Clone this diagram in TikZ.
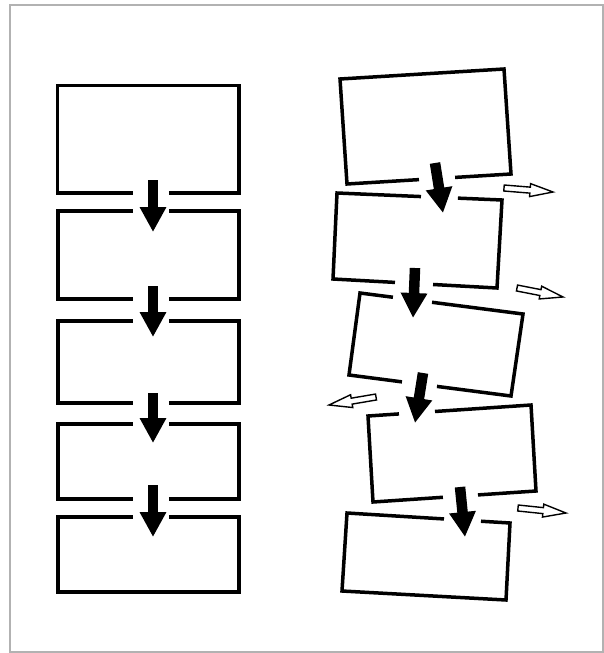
\documentclass[tikz,border=0pt]{standalone}
\usetikzlibrary{calc,arrows.meta}
\tikzset{
  boxline/.style={draw=black, line width=3.5pt, line join=miter},
  fatarrow/.style={draw=black, line width=10.5pt, -{Triangle[width=25pt,length=25pt]}},
  hollow/.style={draw=black, fill=white, line width=1.4pt, line join=miter},
  frameline/.style={draw=black!30, line width=1.2pt}
}
\newcommand\corners[5]{%
  \coordinate (#1tl) at #2; \coordinate (#1tr) at #3;
  \coordinate (#1br) at #4; \coordinate (#1bl) at #5;}
% box with gaps at top (#2..#3) and bottom (#4..#5)
\newcommand\boxboth[5]{%
  \draw[boxline] ($(#1tl)!#2!(#1tr)$) -- (#1tl) -- (#1bl) -- ($(#1bl)!#4!(#1br)$);
  \draw[boxline] ($(#1bl)!#5!(#1br)$) -- (#1br) -- (#1tr) -- ($(#1tl)!#3!(#1tr)$);}
% box with gap at bottom only
\newcommand\boxfirst[3]{%
  \draw[boxline] ($(#1bl)!#3!(#1br)$) -- (#1br) -- (#1tr) -- (#1tl) -- (#1bl) -- ($(#1bl)!#2!(#1br)$);}
% box with gap at top only
\newcommand\boxlast[3]{%
  \draw[boxline] ($(#1tl)!#3!(#1tr)$) -- (#1tr) -- (#1br) -- (#1bl) -- (#1tl) -- ($(#1tl)!#2!(#1tr)$);}
% hollow arrow: name, tail, tip
\newcommand\hollowarrow[3]{%
  \coordinate (#1t) at #2; \coordinate (#1p) at #3;
  \coordinate (#1b) at ($(#1p)!23pt!(#1t)$);
  \draw[hollow] ($(#1t)!3pt!90:(#1p)$) -- ($(#1b)!3pt!90:(#1p)$) -- ($(#1b)!6.5pt!90:(#1p)$)
    -- (#1p) -- ($(#1b)!6.5pt!-90:(#1p)$) -- ($(#1b)!3pt!-90:(#1p)$) -- ($(#1t)!3pt!-90:(#1p)$) -- cycle;}
\begin{document}
\begin{tikzpicture}[x=1pt,y=-1pt]
\useasboundingbox (0,0) rectangle (604,653);
\fill[white] (0,0) rectangle (604,653);
\draw[frameline] (10,5) rectangle (603,652);

% ---- left column ----
\corners{L1}{(57.5,85.5)}{(239,85.5)}{(239,193)}{(57.5,193)}
\corners{L2}{(58,211)}{(239,211)}{(239,299)}{(58,299)}
\corners{L3}{(58,321)}{(239,321)}{(239,403)}{(58,403)}
\corners{L4}{(58,424)}{(239,424)}{(239,499)}{(58,499)}
\corners{L5}{(58,517)}{(239,517)}{(239,592)}{(58,592)}
\boxfirst{L1}{0.414}{0.613}
\boxboth{L2}{0.414}{0.613}{0.414}{0.613}
\boxboth{L3}{0.414}{0.613}{0.414}{0.613}
\boxboth{L4}{0.414}{0.613}{0.414}{0.613}
\boxlast{L5}{0.414}{0.613}

\coordinate (LA1s) at (153,180); \coordinate (LA1e) at (153,232);
\coordinate (LA2s) at (153,286); \coordinate (LA2e) at (153,337);
\coordinate (LA3s) at (153,393); \coordinate (LA3e) at (153,443);
\coordinate (LA4s) at (153,485); \coordinate (LA4e) at (153,537);
\draw[fatarrow] (LA1s) -- (LA1e);
\draw[fatarrow] (LA2s) -- (LA2e);
\draw[fatarrow] (LA3s) -- (LA3e);
\draw[fatarrow] (LA4s) -- (LA4e);

% ---- right column ----
\corners{R1}{(340,79)}{(504,69)}{(511,174)}{(347,184)}
\corners{R2}{(337,193)}{(502,200)}{(497,288)}{(333,279)}
\corners{R3}{(360,293)}{(523,314)}{(511,396)}{(349,375)}
\corners{R4}{(368,416)}{(531,405)}{(536,491)}{(373,502)}
\corners{R5}{(347,513)}{(510,523)}{(506,600)}{(342,591)}
\boxfirst{R1}{0.439}{0.659}
\boxboth{R2}{0.509}{0.733}{0.378}{0.610}
\boxboth{R3}{0.202}{0.442}{0.327}{0.543}
\boxboth{R4}{0.190}{0.411}{0.429}{0.644}
\boxlast{R5}{0.595}{0.822}

\coordinate (RA1s) at (435,163); \coordinate (RA1e) at (443,213);
\coordinate (RA2s) at (415,268); \coordinate (RA2e) at (413,318);
\coordinate (RA3s) at (423,373); \coordinate (RA3e) at (415,423);
\coordinate (RA4s) at (460,487); \coordinate (RA4e) at (465,537);
\draw[fatarrow] (RA1s) -- (RA1e);
\draw[fatarrow] (RA2s) -- (RA2e);
\draw[fatarrow] (RA3s) -- (RA3e);
\draw[fatarrow] (RA4s) -- (RA4e);

\hollowarrow{H1}{(504,188)}{(553,192)}
\hollowarrow{H2}{(517,288)}{(563,297)}
\hollowarrow{H3}{(376,397)}{(329,405)}
\hollowarrow{H4}{(518,508)}{(566,513)}
\end{tikzpicture}
\end{document}
